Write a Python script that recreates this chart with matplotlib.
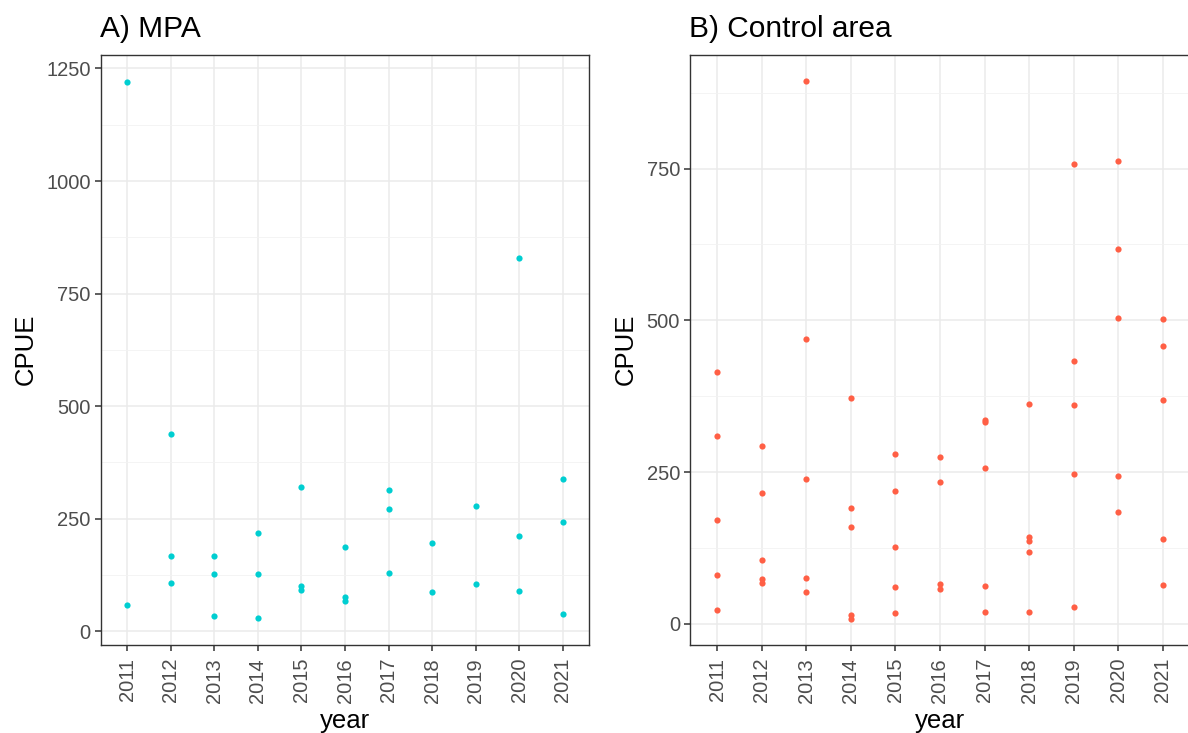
import matplotlib
matplotlib.use("Agg")
import matplotlib.pyplot as plt
from matplotlib.ticker import MultipleLocator

plt.rcParams['font.family'] = ['Liberation Sans', 'DejaVu Sans']

years = [2011, 2012, 2013, 2014, 2015, 2016, 2017, 2018, 2019, 2020, 2021]

# A) MPA - CPUE points per year
mpa_year = [2011, 2011,
            2012, 2012, 2012,
            2013, 2013, 2013,
            2014, 2014, 2014,
            2015, 2015, 2015,
            2016, 2016, 2016,
            2017, 2017, 2017,
            2018, 2018,
            2019, 2019,
            2020, 2020, 2020,
            2021, 2021, 2021]
mpa_cpue = [1221, 58,
            437, 167, 108,
            167, 127, 33,
            218, 127, 30,
            321, 100, 92,
            187, 75, 68,
            313, 271, 130,
            197, 86,
            279, 105,
            828, 211, 89,
            339, 243, 39]

# B) Control area - CPUE points per year
ctrl_year = [2011] * 5 + [2012] * 5 + [2013] * 5 + [2014] * 5 + [2015] * 5 + \
            [2016] * 4 + [2017] * 5 + [2018] * 5 + [2019] * 5 + [2020] * 5 + [2021] * 5
ctrl_cpue = [414, 310, 171, 81, 22,
             293, 215, 105, 73, 67,
             894, 470, 238, 76, 52,
             372, 190, 159, 15, 8,
             279, 218, 126, 60, 17,
             274, 234, 65, 58,
             336, 333, 256, 62, 20,
             362, 143, 137, 118, 19,
             758, 433, 361, 247, 27,
             763, 618, 503, 243, 184,
             502, 457, 369, 139, 64]

W, H = 1188, 733
fig = plt.figure(figsize=(W / 100, H / 100), dpi=100)

panels = [
    dict(rect=[101 / W, (H - 644.7) / H, 488 / W, 590 / H], x=mpa_year, y=mpa_cpue,
         color='#00CED1', title='A) MPA', ylim=(-30, 1280.6)),
    dict(rect=[690.3 / W, (H - 644.7) / H, 499.4 / W, 590 / H], x=ctrl_year, y=ctrl_cpue,
         color='#FF5F45', title='B) Control area', ylim=(-34.6, 937.7)),
]

for p in panels:
    ax = fig.add_axes(p['rect'])
    xs = [years.index(v) for v in p['x']]
    ax.scatter(xs, p['y'], s=20, color=p['color'], linewidths=0, zorder=3)
    ax.set_xlim(-0.6, len(years) - 0.4)
    ax.set_ylim(*p['ylim'])
    ax.set_xticks(range(len(years)))
    ax.set_xticklabels([str(v) for v in years], rotation=90)
    ax.yaxis.set_major_locator(MultipleLocator(250))
    ax.yaxis.set_minor_locator(MultipleLocator(125))
    ax.grid(which='major', color='#EBEBEB', lw=1.1, zorder=0)
    ax.grid(which='minor', axis='y', color='#F2F2F2', lw=0.6, zorder=0)
    ax.set_axisbelow(True)
    ax.tick_params(which='major', length=4.5, width=1.1, color='#333333',
                   labelsize=14.5, labelcolor='#4D4D4D', pad=3)
    ax.tick_params(axis='x', which='major', pad=5)
    ax.tick_params(which='minor', length=0)
    for s in ax.spines.values():
        s.set_color('#333333')
        s.set_linewidth(1.0)
    ax.set_xlabel('year', fontsize=18.5, labelpad=5)
    ax.set_ylabel('CPUE', fontsize=18.5, labelpad=6)
    ax.set_title(p['title'], loc='left', fontsize=21.5, pad=13, x=-0.003)

fig.savefig('out.png', dpi=100)
